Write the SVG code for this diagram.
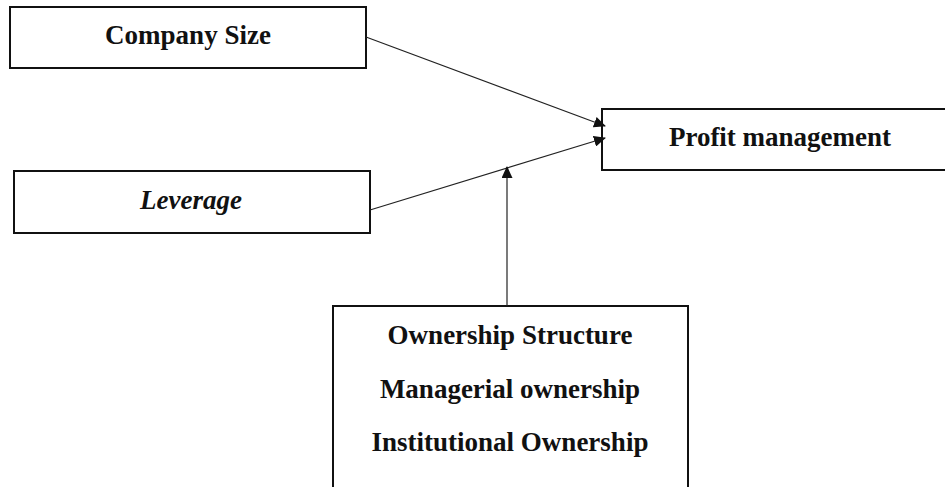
<svg xmlns="http://www.w3.org/2000/svg" width="945" height="487" viewBox="0 0 945 487">
<style>
.box{fill:#fff;stroke:#111;stroke-width:2}
.t{font-family:"Liberation Serif","Times New Roman",serif;font-weight:bold;font-size:27px;fill:#111;text-anchor:middle}
.i{font-style:italic}
.c{stroke:#222;stroke-width:1.2;fill:none}
</style>
<defs>
<marker id="ah" markerWidth="12" markerHeight="11" refX="11" refY="5.5" orient="auto" markerUnits="userSpaceOnUse">
<path d="M0,0 L12,5.5 L0,11 Z" fill="#111"/>
</marker>
</defs>
<g id="company-size"><rect class="box" x="10" y="7" width="356" height="61"/><text class="t" x="188" y="44">Company Size</text></g>
<g id="leverage"><rect class="box" x="14" y="171" width="356" height="62"/><text class="t i" x="191" y="209">Leverage</text></g>
<g id="profit-management"><rect class="box" x="602" y="109" width="345" height="61"/><text class="t" x="780" y="146">Profit management</text></g>
<g id="ownership"><rect class="box" x="333" y="306" width="355" height="200"/>
<text class="t" x="510" y="344">Ownership Structure</text>
<text class="t" x="510" y="398">Managerial ownership</text>
<text class="t" x="510" y="451">Institutional Ownership</text></g>
<g id="connectors">
<line class="c" x1="366" y1="37" x2="605" y2="126" marker-end="url(#ah)"/>
<line class="c" x1="370" y1="210" x2="605" y2="138" marker-end="url(#ah)"/>
<line class="c" x1="507" y1="306" x2="507" y2="167" marker-end="url(#ah)"/>
</g>
</svg>
